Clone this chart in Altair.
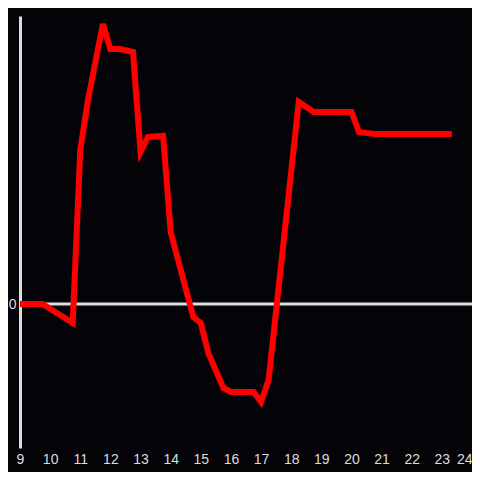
import altair as alt
import pandas as pd

hours = [9, 9.75, 10.75, 11, 11.25, 11.75, 12, 12.33, 12.75, 13, 13.25, 13.75, 14,
         14.75, 15, 15.25, 15.75, 16, 16.75, 17, 17.25, 18.25, 18.75, 20, 20.25, 20.75, 23.33]
values = [0, 0, -19, 154, 203, 280, 255, 255, 252, 152, 167, 168, 72,
          -13, -19, -49, -84, -88, -88, -98, -76, 202, 192, 192, 172, 170, 170]
x_ticks = list(range(9, 25))

df = pd.DataFrame({"hour": hours, "value": values})
zero = pd.DataFrame({"y": [0]})

xscale = alt.Scale(domain=[9, 24], nice=False, zero=False)
yscale = alt.Scale(domain=[-144, 288], nice=False, zero=False)

rule = alt.Chart(zero).mark_rule(color="#dddddd", strokeWidth=3).encode(
    y=alt.Y("y:Q", scale=yscale, title=None,
            axis=alt.Axis(values=[0], ticks=False, grid=False, domain=True,
                          domainColor="#dddddd", domainWidth=3,
                          labelColor="#dddddd", labelFontSize=14, labelPadding=4,
                          labelFont="Liberation Sans")),
)

line = alt.Chart(df).mark_line(color="#ff0000", strokeWidth=6, strokeJoin="miter").encode(
    x=alt.X("hour:Q", scale=xscale, title=None,
            axis=alt.Axis(values=x_ticks, ticks=False, grid=False, domain=False,
                          labelColor="#dddddd", labelFontSize=14, labelPadding=4,
                          labelFont="Liberation Sans", labelFlush=False, format="d",
                          labelAlign=alt.condition("datum.value == 24",
                                                   alt.value("right"), alt.value("center")))),
    y=alt.Y("value:Q", scale=yscale),
)

chart = alt.layer(rule, line).properties(
    width=452, height=432,
    autosize=alt.AutoSizeParams(type="none"),
    padding={"left": 12, "top": 8, "right": 0, "bottom": 24},
    background="#040408",
).configure_view(stroke=None)

chart.save("out.html", embed_options={"renderer": "svg", "actions": False})
